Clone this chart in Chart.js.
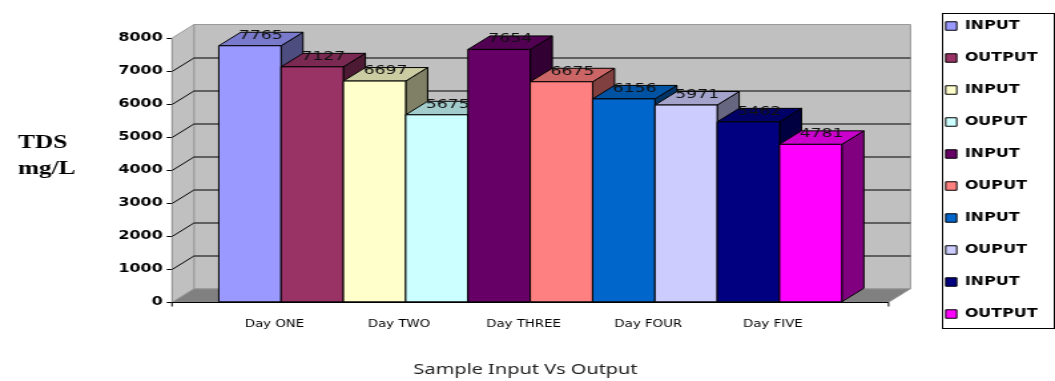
<!DOCTYPE html>
<html>
<head>
<meta charset="utf-8">
<script src="https://cdn.jsdelivr.net/npm/chart.js@4.4.1/dist/chart.umd.min.js"></script>
<style>
  html, body { margin: 0; padding: 0; background: #fff; overflow: hidden; }
  /* the chart is laid out on a narrower canvas and widened to the page width */
  #wrap { width: 793px; height: 381px; transform: scaleX(1.33039); transform-origin: 0 0; }
</style>
</head>
<body>
<div id="wrap"><canvas id="chart" width="793" height="381"></canvas></div>
<script>
// ---- data ----
const days = ['Day ONE', 'Day TWO', 'Day THREE', 'Day FOUR', 'Day FIVE'];
const seriesNames = ['INPUT', 'OUTPUT', 'INPUT', 'OUPUT', 'INPUT', 'OUPUT', 'INPUT', 'OUPUT', 'INPUT', 'OUTPUT'];
const tdsValues = [7765, 7127, 6697, 5675, 7654, 6675, 6156, 5971, 5462, 4781];
const barColors = ['#9999FF', '#993366', '#FFFFCC', '#CCFFFF', '#660066', '#FF8080', '#0066CC', '#CCCCFF', '#000080', '#FF00FF'];
const yTicks = [0, 1000, 2000, 3000, 4000, 5000, 6000, 7000, 8000];
const dayCenters = [0.5, 2.5, 4.5, 6.5, 8.5];

// ---- 3D look ----
const DEPTH_X = 16.5;
const DEPTH_Y = 13.5;
const FRONT_MIN = -1.25;
const FRONT_MAX = 10.25;

function shade(hex, f) {
  const n = parseInt(hex.slice(1), 16);
  const r = Math.round(((n >> 16) & 255) * f);
  const g = Math.round(((n >> 8) & 255) * f);
  const b = Math.round((n & 255) * f);
  return `rgb(${r},${g},${b})`;
}

function poly(ctx, pts, fill, stroke) {
  ctx.beginPath();
  ctx.moveTo(pts[0][0], pts[0][1]);
  for (let i = 1; i < pts.length; i++) ctx.lineTo(pts[i][0], pts[i][1]);
  ctx.closePath();
  if (fill) { ctx.fillStyle = fill; ctx.fill(); }
  if (stroke) { ctx.strokeStyle = stroke; ctx.lineWidth = 1; ctx.stroke(); }
}

function line(ctx, pts, color) {
  ctx.beginPath();
  ctx.moveTo(pts[0][0], pts[0][1]);
  for (let i = 1; i < pts.length; i++) ctx.lineTo(pts[i][0], pts[i][1]);
  ctx.strokeStyle = color;
  ctx.lineWidth = 1;
  ctx.stroke();
}

const frame3d = {
  id: 'frame3d',
  beforeDatasetsDraw(chart) {
    const { ctx, scales: { x, y } } = chart;
    const dx = DEPTH_X, dy = DEPTH_Y;
    const fl = x.getPixelForValue(FRONT_MIN);
    const fr = x.getPixelForValue(FRONT_MAX);
    const y0 = y.getPixelForValue(y.min);
    const yT = y.getPixelForValue(y.max);
    ctx.save();
    // back wall
    poly(ctx, [[fl + dx, yT - dy], [fr + dx, yT - dy], [fr + dx, y0 - dy], [fl + dx, y0 - dy]], '#c0c0c0', '#9a9a9a');
    // left wall
    poly(ctx, [[fl, y0], [fl, yT], [fl + dx, yT - dy], [fl + dx, y0 - dy]], '#c0c0c0', '#9a9a9a');
    // floor
    poly(ctx, [[fl, y0], [fr, y0], [fr + dx, y0 - dy], [fl + dx, y0 - dy]], '#808080', '#9a9a9a');
    // gridlines across the left wall and the back wall
    y.ticks.forEach(t => {
      if (t.value <= y.min || t.value >= y.max) return;
      const py = Math.round(y.getPixelForValue(t.value)) + 0.5;
      line(ctx, [[fl, py], [fl + dx, py - dy], [fr + dx, py - dy]], '#000');
    });
    ctx.restore();
  },
  beforeDatasetDraw() {
    // the bars are painted as blocks below
    return false;
  },
  afterDatasetsDraw(chart) {
    const { ctx, scales: { x, y } } = chart;
    const dx = DEPTH_X, dy = DEPTH_Y;
    ctx.save();
    const tops = [];
    chart.data.datasets.forEach((ds, i) => {
      const meta = chart.getDatasetMeta(i);
      if (meta.hidden) return;
      meta.data.forEach((bar, j) => {
        const { x: cx, y: ty, base, width } = bar.getProps(['x', 'y', 'base', 'width'], true);
        const l = cx - width / 2, r = cx + width / 2;
        poly(ctx, [[r, ty], [r + dx, ty - dy], [r + dx, base - dy], [r, base]], shade(ds.backgroundColor, 0.5), '#000');
        poly(ctx, [[l, ty], [l + dx, ty - dy], [r + dx, ty - dy], [r, ty]], shade(ds.backgroundColor, 0.8), '#000');
        poly(ctx, [[l, ty], [r, ty], [r, base], [l, base]], ds.backgroundColor, '#000');
        tops.push({ x: cx + dx / 2, y: ty, v: ds.data[j].y });
      });
    });
    // value labels
    ctx.font = '13px "DejaVu Sans", sans-serif';
    ctx.fillStyle = '#111';
    ctx.textAlign = 'center';
    ctx.textBaseline = 'alphabetic';
    tops.forEach(p => ctx.fillText(String(p.v), p.x, p.y - 7));
    // front baseline with end ticks
    const fl = x.getPixelForValue(FRONT_MIN);
    const fr = x.getPixelForValue(FRONT_MAX);
    const y0 = Math.round(y.getPixelForValue(y.min)) + 0.5;
    line(ctx, [[fl, y0], [fr, y0]], '#000');
    line(ctx, [[fl, y0], [fl, y0 + 4]], '#000');
    line(ctx, [[fr, y0], [fr, y0 + 4]], '#000');
    ctx.restore();
  },
  afterDraw(chart) {
    const { ctx, scales: { y } } = chart;
    ctx.save();
    // legend frame
    const lg = chart.legend;
    const hb = lg.legendHitBoxes;
    if (hb && hb.length) {
      const first = hb[0], last = hb[hb.length - 1];
      const bx = Math.round(first.left - 2.5) + 0.5;
      const by = Math.round(first.top - 7) + 0.5;
      const bw = Math.round(lg.right + 1.5) - bx + 0.5;
      const bh = Math.round(last.top + last.height + 8) - by + 0.5;
      ctx.strokeStyle = '#000';
      ctx.lineWidth = 1;
      ctx.strokeRect(bx, by, bw, bh);
    }
    // value axis caption
    const mid = (y.top + y.bottom) / 2;
    ctx.font = 'bold 19px "Liberation Serif", serif';
    ctx.fillStyle = '#000';
    ctx.textAlign = 'left';
    ctx.textBaseline = 'alphabetic';
    ctx.fillText('TDS', y.left + 13.5, mid - 22);
    ctx.fillText('mg/L', y.left + 13.5, mid + 4);
    ctx.restore();
  }
};

Chart.defaults.font.family = '"DejaVu Sans", sans-serif';
Chart.defaults.color = '#000';

const datasets = tdsValues.map((v, i) => ({
  label: seriesNames[i],
  data: [{ x: i, y: v }],
  backgroundColor: barColors[i],
  borderColor: '#000',
  borderWidth: 1,
  grouped: false,
  barPercentage: 1,
  categoryPercentage: 1
}));

new Chart(document.getElementById('chart'), {
  type: 'bar',
  data: { datasets },
  plugins: [frame3d],
  options: {
    responsive: false,
    animation: false,
    events: [],
    layout: { padding: { top: 0, right: 3, bottom: 0, left: 0 } },
    scales: {
      x: {
        type: 'linear',
        min: -1.25,
        max: 10.74,
        offset: false,
        grid: { display: false, drawTicks: false, offset: false },
        border: { display: false },
        afterFit: s => { s.height = 54.7; s.paddingLeft = 0; s.paddingRight = 0; },
        afterBuildTicks: s => { s.ticks = dayCenters.map(v => ({ value: v })); },
        ticks: {
          autoSkip: false,
          maxRotation: 0,
          padding: 16,
          labelOffset: -5,
          font: { size: 10 },
          color: '#000',
          callback: (v, i) => days[i]
        }
      },
      y: {
        min: 0,
        max: 8000,
        z: 1,
        afterFit: s => { s.width = 129.3; s.paddingTop = 38; s.paddingBottom = 0; },
        afterBuildTicks: s => { s.ticks = yTicks.map(v => ({ value: v })); },
        grid: { drawOnChartArea: false, drawTicks: true, tickLength: 4, color: '#000' },
        border: { display: true, color: '#000', width: 1 },
        ticks: {
          padding: 3,
          font: { size: 12, weight: 'bold' },
          color: '#000',
          callback: v => String(v)
        }
      }
    },
    plugins: {
      tooltip: { enabled: false },
      legend: {
        position: 'right',
        align: 'start',
        labels: {
          boxWidth: 8.3,
          boxHeight: 8.5,
          padding: 20,
          color: '#000',
          font: { size: 12, weight: 'bold' }
        }
      },
      title: {
        display: true,
        text: 'Sample Input Vs Output',
        position: 'bottom',
        align: 'center',
        color: '#222',
        font: { family: '"Noto Sans", sans-serif', size: 15, weight: 'normal' },
        padding: { top: 4, bottom: 2 }
      }
    }
  }
});
</script>
</body>
</html>
